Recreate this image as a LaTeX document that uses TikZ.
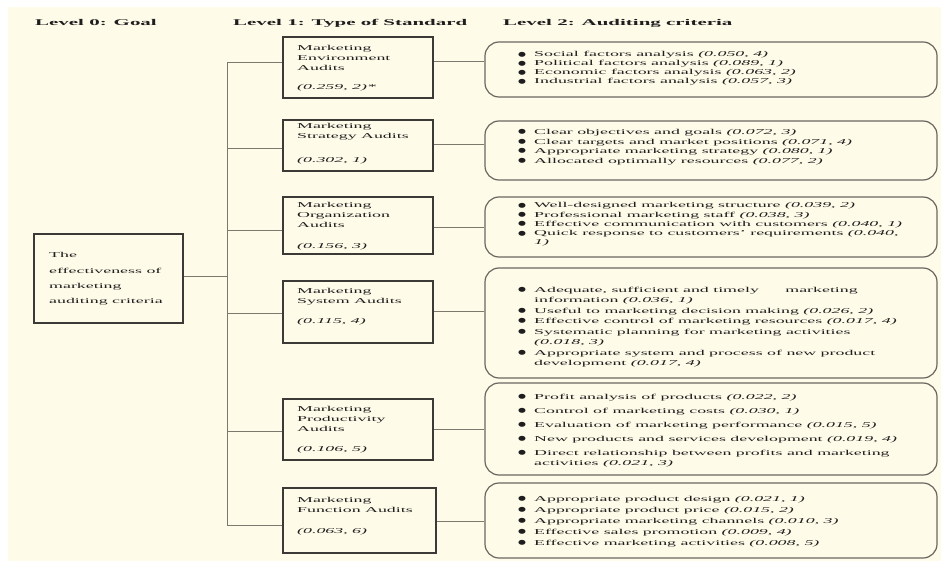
\documentclass[tikz,border=0pt]{standalone}
\usepackage{fontspec}
\setmainfont{Liberation Serif}[FakeStretch=2.38]
\newfontfamily\symf{DejaVu Sans}[FakeStretch=1.4]
\definecolor{cream}{HTML}{FFFBE9}
\definecolor{ink}{HTML}{1E1E1E}
\definecolor{boxc}{HTML}{3C3A36}
\definecolor{roundc}{HTML}{6A6760}
\definecolor{linec}{HTML}{7C786E}
\newcommand\bul{\makebox[16pt][l]{\raisebox{0.6pt}{\symf\fontsize{6.5}{6}\selectfont ●}}}
\newcommand\cont{\hspace*{16pt}}
\begin{document}
\begin{tikzpicture}[x=1pt,y=-1pt,
  font=\fontsize{7.5}{10}\selectfont, text=ink,
  sqbox/.style={draw=boxc, line width=1.5pt, inner sep=0pt},
  rbox/.style={draw=roundc, line width=1.2pt, rounded corners=14pt, inner sep=0pt, minimum width=452},
  txt/.style={anchor=west, align=left, inner sep=0pt},
  hdr/.style={anchor=west, inner sep=0pt, font=\fontsize{8.8}{12}\selectfont\bfseries},
  conn/.style={draw=linec, line width=0.9pt}]
\fill[white] (0,0) rectangle (941,561);
\fill[cream] (8,7) rectangle (941,561);
\useasboundingbox (0,0) rectangle (941,561);

% headers
\node[hdr] (h0) at (35,23) {Level 0: Goal};
\node[hdr] (h1) at (233,23) {Level 1: Type of Standard};
\node[hdr] (h2) at (503,23) {Level 2: Auditing criteria};

% goal
\node[sqbox, minimum width=149, minimum height=89] (goal) at (108.5,278.5) {};
\node[txt, font=\fontsize{7.5}{15.3}\selectfont] (goalt) at (49,279) {The\\effectiveness of\\marketing\\auditing criteria};

% level 1 boxes
\node[sqbox, minimum width=150, minimum height=61] (s1) at (358,67.5) {};
\node[sqbox, minimum width=150, minimum height=51] (s2) at (358,145.5) {};
\node[sqbox, minimum width=150, minimum height=57] (s3) at (358,225.5) {};
\node[sqbox, minimum width=150, minimum height=62] (s4) at (358,312) {};
\node[sqbox, minimum width=150, minimum height=61] (s5) at (358,429.5) {};
\node[sqbox, minimum width=153, minimum height=65] (s6) at (359.5,520.5) {};

\node[txt] (s1t) at (297,68.5) {Marketing\\Environment\\Audits\\[9pt]\textit{(0.259, 2)*}};
\node[txt] (s2t) at (297,143.5) {Marketing\\Strategy Audits\\[14pt]\textit{(0.302, 1)}};
\node[txt] (s3t) at (297,226) {Marketing\\Organization\\Audits\\[11pt]\textit{(0.156, 3)}};
\node[txt] (s4t) at (297,306.5) {Marketing\\System Audits\\[10pt]\textit{(0.115, 4)}};
\node[txt] (s5t) at (297,429.5) {Marketing\\Productivity\\Audits\\[10pt]\textit{(0.106, 5)}};
\node[txt] (s6t) at (297,516) {Marketing\\Function Audits\\[11pt]\textit{(0.063, 6)}};

% level 2 boxes
\node[rbox, minimum height=55] (a) at (711,69.5) {};
\node[rbox, minimum height=59] (b) at (711,150.5) {};
\node[rbox, minimum height=60] (c) at (711,227) {};
\node[rbox, minimum height=110] (d) at (711,323) {};
\node[rbox, minimum height=92] (e) at (711,429) {};
\node[rbox, minimum height=75] (f) at (711,520.5) {};

\node[txt, font=\fontsize{7.5}{9}\selectfont] (at) at (518,68.5) {%
\bul Social factors analysis \textit{(0.050, 4)}\\
\bul Political factors analysis \textit{(0.089, 1)}\\
\bul Economic factors analysis \textit{(0.063, 2)}\\
\bul Industrial factors analysis \textit{(0.057, 3)}};
\node[txt, font=\fontsize{7.5}{9.5}\selectfont] (bt) at (518,147) {%
\bul Clear objectives and goals \textit{(0.072, 3)}\\
\bul Clear targets and market positions \textit{(0.071, 4)}\\
\bul Appropriate marketing strategy \textit{(0.080, 1)}\\
\bul Allocated optimally resources \textit{(0.077, 2)}};
\node[txt, font=\fontsize{7.5}{9.3}\selectfont] (ct) at (518,224.5) {%
\bul Well-designed marketing structure \textit{(0.039, 2)}\\
\bul Professional marketing staff \textit{(0.038, 3)}\\
\bul Effective communication with customers \textit{(0.040, 1)}\\
\bul Quick response to customers' requirements \textit{(0.040,}\\
\cont\textit{1)}};
\node[txt, font=\fontsize{7.5}{10.5}\selectfont] (dt) at (518,327) {%
\bul Adequate, sufficient and timely\hspace{22pt} marketing\\
\cont information \textit{(0.036, 1)}\\
\bul Useful to marketing decision making \textit{(0.026, 2)}\\
\bul Effective control of marketing resources \textit{(0.017, 4)}\\
\bul Systematic planning for marketing activities\\
\cont\textit{(0.018, 3)}\\
\bul Appropriate system and process of new product\\
\cont development \textit{(0.017, 4)}};
\node[txt, font=\fontsize{7.5}{9.5}\selectfont] (et) at (518,430.5) {%
\bul Profit analysis of products \textit{(0.022, 2)}\\[4.5pt]
\bul Control of marketing costs \textit{(0.030, 1)}\\[4.5pt]
\bul Evaluation of marketing performance \textit{(0.015, 5)}\\[4.5pt]
\bul New products and services development \textit{(0.019, 4)}\\[4.5pt]
\bul Direct relationship between profits and marketing\\
\cont activities \textit{(0.021, 3)}};
\node[txt, font=\fontsize{7.5}{11}\selectfont] (ft) at (518,521.5) {%
\bul Appropriate product design \textit{(0.021, 1)}\\
\bul Appropriate product price \textit{(0.015, 2)}\\
\bul Appropriate marketing channels \textit{(0.010, 3)}\\
\bul Effective sales promotion \textit{(0.009, 4)}\\
\bul Effective marketing activities \textit{(0.008, 5)}};

% connectors
\coordinate (trunk) at (227,0);
\draw[conn] ([yshift=2.5pt]goal.east) -- ([yshift=2.5pt]goal.east -| trunk);
\draw[conn] ([yshift=5.5pt]s1.west -| trunk) -- ([yshift=-4.5pt]s6.west -| trunk);
\draw[conn] ([yshift=5.5pt]s1.west) -- ([yshift=5.5pt]s1.west -| trunk);
\draw[conn] ([yshift=-2.5pt]s2.west) -- ([yshift=-2.5pt]s2.west -| trunk);
\draw[conn] ([yshift=-4.5pt]s3.west) -- ([yshift=-4.5pt]s3.west -| trunk);
\draw[conn] ([yshift=-1pt]s4.west) -- ([yshift=-1pt]s4.west -| trunk);
\draw[conn] ([yshift=-1.5pt]s5.west) -- ([yshift=-1.5pt]s5.west -| trunk);
\draw[conn] ([yshift=-4.5pt]s6.west) -- ([yshift=-4.5pt]s6.west -| trunk);

\draw[conn] ([yshift=6pt]s1.east) -- ([yshift=6pt]s1.east -| a.west);
\draw[conn] ([yshift=1.5pt]s2.east) -- ([yshift=1.5pt]s2.east -| b.west);
\draw[conn] ([yshift=-1.5pt]s3.east) -- ([yshift=-1.5pt]s3.east -| c.west);
\draw[conn] ([yshift=1pt]s4.east) -- ([yshift=1pt]s4.east -| d.west);
\draw[conn] ([yshift=0.5pt]s5.east) -- ([yshift=0.5pt]s5.east -| e.west);
\draw[conn] ([yshift=-0.5pt]s6.east) -- ([yshift=-0.5pt]s6.east -| f.west);
\end{tikzpicture}
\end{document}
